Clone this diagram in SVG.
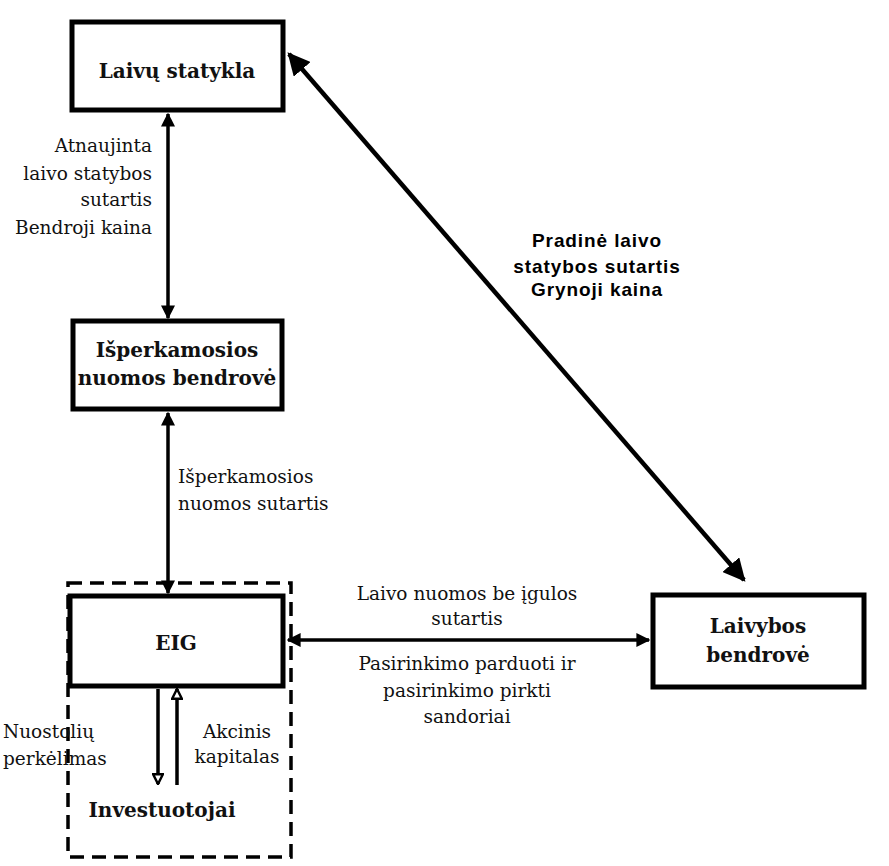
<svg xmlns="http://www.w3.org/2000/svg" width="889" height="866" viewBox="0 0 889 866">
<defs>
<style>
.box{fill:#fff;stroke:#000;stroke-width:5}
.t{font-family:"DejaVu Serif","Liberation Serif",serif;font-size:18.5px;fill:#111}
.tb{font-family:"DejaVu Serif","Liberation Serif",serif;font-size:20px;font-weight:bold;fill:#111;text-anchor:middle}
.ts{font-family:"Liberation Sans",Arial,sans-serif;font-size:19px;font-weight:bold;letter-spacing:0.9px;fill:#000;text-anchor:middle}
.ln{stroke:#000;stroke-width:3.5;fill:none}
</style>
<marker id="ah" viewBox="0 0 10 10" refX="9" refY="5" markerWidth="4" markerHeight="4" orient="auto-start-reverse" markerUnits="strokeWidth">
<path d="M0,0 L10,5 L0,10 z" fill="#000"/>
</marker>
<marker id="ahb" viewBox="0 0 10 10" refX="9" refY="5" markerWidth="5" markerHeight="5" orient="auto-start-reverse" markerUnits="strokeWidth">
<path d="M0,0 L10,5 L0,10 z" fill="#000"/>
</marker>
<marker id="ao" viewBox="0 0 10 10" refX="9" refY="5" markerWidth="3.5" markerHeight="3.5" orient="auto" markerUnits="strokeWidth">
<path d="M1,1 L9,5 L1,9 z" fill="#fff" stroke="#000" stroke-width="2"/>
</marker>
</defs>

<g id="investors-group">
<rect x="68" y="583" width="223" height="274" fill="none" stroke="#000" stroke-width="3.5" stroke-dasharray="14,8"/>
</g>

<g id="connectors">
<line class="ln" x1="168" y1="114" x2="168" y2="318" marker-start="url(#ah)" marker-end="url(#ah)"/>
<line class="ln" x1="168" y1="413" x2="168" y2="593" marker-start="url(#ah)" marker-end="url(#ah)"/>
<line class="ln" x1="288" y1="640" x2="649" y2="640" marker-start="url(#ah)" marker-end="url(#ah)"/>
<line x1="289" y1="54" x2="744" y2="580" stroke="#000" stroke-width="4.5" marker-start="url(#ahb)" marker-end="url(#ahb)"/>
<line class="ln" x1="158" y1="689" x2="158" y2="784" stroke-width="4" marker-end="url(#ao)"/>
<line class="ln" x1="177" y1="785" x2="177" y2="689" stroke-width="4" marker-end="url(#ao)"/>
</g>

<g id="laivu-statykla">
<rect class="box" x="72" y="22" width="211" height="88"/>
<text class="tb" x="177" y="78">Laivų statykla</text>
</g>

<g id="isperkamosios-bendrove">
<rect class="box" x="73" y="321" width="209" height="88"/>
<text class="tb" x="177" y="357">Išperkamosios</text>
<text class="tb" x="177" y="385">nuomos bendrovė</text>
</g>

<g id="eig">
<rect class="box" x="70" y="596" width="213" height="90"/>
<text class="tb" x="176" y="650">EIG</text>
</g>

<g id="investuotojai">
<text class="tb" x="162" y="817">Investuotojai</text>
</g>

<g id="laivybos-bendrove">
<rect class="box" x="653" y="595" width="211" height="92"/>
<text class="tb" x="758" y="633">Laivybos</text>
<text class="tb" x="758" y="662">bendrovė</text>
</g>

<g id="labels">
<text class="t" text-anchor="end" x="152" y="152">Atnaujinta</text>
<text class="t" text-anchor="end" x="152" y="180">laivo statybos</text>
<text class="t" text-anchor="end" x="152" y="206">sutartis</text>
<text class="t" text-anchor="end" x="152" y="234">Bendroji kaina</text>

<text class="t" x="178" y="483">Išperkamosios</text>
<text class="t" x="178" y="510">nuomos sutartis</text>

<text class="t" x="3" y="738">Nuostolių</text>
<text class="t" x="3" y="765">perkėlimas</text>

<text class="t" text-anchor="middle" x="237" y="738">Akcinis</text>
<text class="t" text-anchor="middle" x="237" y="763">kapitalas</text>

<text class="t" text-anchor="middle" x="467" y="600">Laivo nuomos be įgulos</text>
<text class="t" text-anchor="middle" x="467" y="625">sutartis</text>
<text class="t" text-anchor="middle" x="467" y="670">Pasirinkimo parduoti ir</text>
<text class="t" text-anchor="middle" x="467" y="697">pasirinkimo pirkti</text>
<text class="t" text-anchor="middle" x="467" y="723">sandoriai</text>

<text class="ts" x="597" y="247">Pradinė laivo</text>
<text class="ts" x="597" y="273">statybos sutartis</text>
<text class="ts" x="597" y="296">Grynoji kaina</text>
</g>
</svg>
